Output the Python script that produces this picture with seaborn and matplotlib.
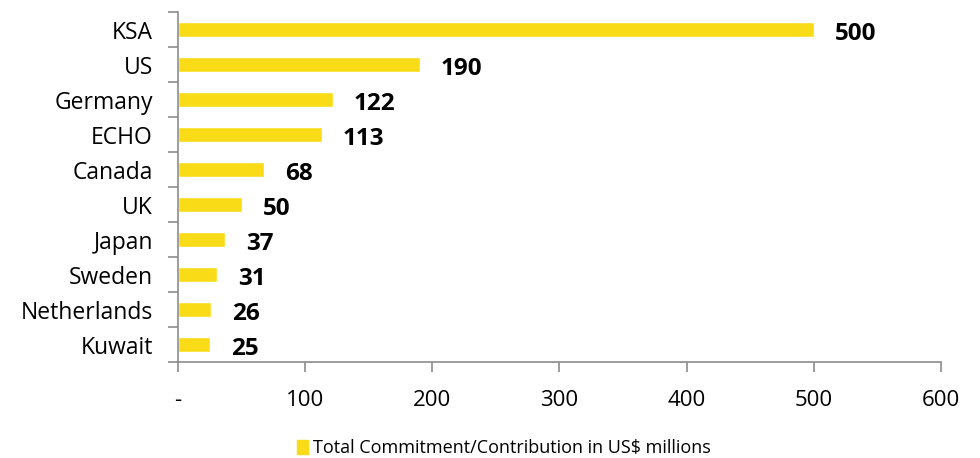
import numpy as np
import pandas as pd
import seaborn as sns
import matplotlib.pyplot as plt
from matplotlib.ticker import FixedLocator

# donors and amounts (US$ millions)
donors = ['KSA', 'US', 'Germany', 'ECHO', 'Canada', 'UK', 'Japan', 'Sweden', 'Netherlands', 'Kuwait']
amounts = [500, 190, 122, 113, 68, 50, 37, 31, 26, 25]
x_ticks = [0, 100, 200, 300, 400, 500, 600]
x_labels = ['-', '100', '200', '300', '400', '500', '600']
legend_label = 'Total Commitment/Contribution in US$ millions'

df = pd.DataFrame({'donor': donors, 'amount': amounts})

sns.set_style('white')
plt.rcParams['font.family'] = ['Open Sans', 'DejaVu Sans']
plt.rcParams['text.color'] = 'black'
plt.rcParams['xtick.color'] = 'black'
plt.rcParams['ytick.color'] = 'black'

fig = plt.figure(figsize=(9.8, 4.58), dpi=100)
ax = fig.add_axes([0.1816, 0.2096, 0.7786, 0.764])

yellow = '#F9DB17'
sns.barplot(data=df, x='amount', y='donor', color=yellow, width=0.42, ax=ax, saturation=1)

ax.set_xlim(0, 600)
ax.set_ylim(9.5, -0.5)
ax.set_xticks(x_ticks)
ax.set_xticklabels(x_labels, fontsize=16)
ax.set_xlabel('')
ax.set_ylabel('')
ax.tick_params(axis='y', which='major', left=False, length=0, labelsize=16.5, pad=18, labelcolor='black')
ax.yaxis.set_minor_locator(FixedLocator(np.arange(-0.5, 10, 1)))
ax.tick_params(axis='y', which='minor', left=True, length=7, color='#8c8c8c', width=1.2, direction='out')
ax.tick_params(axis='x', which='major', bottom=True, length=7, color='#8c8c8c', width=1.2,
               direction='out', pad=13, labelcolor='black')

for s in ['top', 'right']:
    ax.spines[s].set_visible(False)
for s in ['left', 'bottom']:
    ax.spines[s].set_color('#8c8c8c')
    ax.spines[s].set_linewidth(1.2)

for i, v in enumerate(amounts):
    ax.annotate(str(v), xy=(v, i), xytext=(15, -3), textcoords='offset points',
                ha='left', va='center', fontsize=17.5, fontweight='bold', color='black')

handle = plt.Rectangle((0, 0), 1, 1, color=yellow)
fig.legend([handle], [legend_label], loc='center', bbox_to_anchor=(0.514, 0.022),
           frameon=False, fontsize=13, handlelength=0.6, handleheight=0.8, handletextpad=0.3)

fig.savefig('out.png', dpi=100)
